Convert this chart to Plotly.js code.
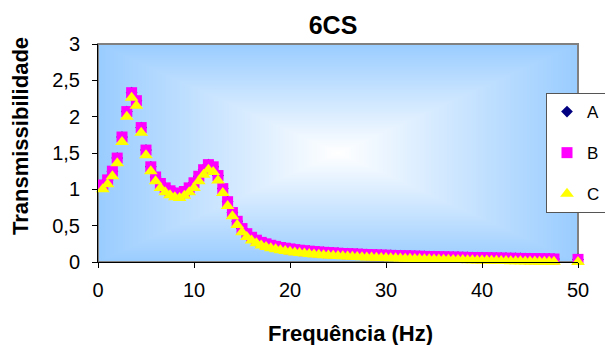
<!DOCTYPE html>
<html>
<head>
<meta charset="utf-8">
<script src="https://cdn.plot.ly/plotly-3.0.1.min.js"></script>
<style>
html,body{margin:0;padding:0;background:#ffffff;}
#chart{width:605px;height:345px;}
</style>
</head>
<body>
<div id="chart"></div>
<script>
// Frequency (Hz)
const freq = [0.5,1,1.5,2,2.5,3,3.5,4,4.5,5,5.5,6,6.5,7,7.5,8,8.5,9,9.5,10,
  10.5,11,11.5,12,12.5,13,13.5,14,14.5,15,15.5,16,16.5,17,17.5,18,18.5,19,19.5,20,
  20.5,21,21.5,22,22.5,23,23.5,24,24.5,25,25.5,26,26.5,27,27.5,28,28.5,29,29.5,30,
  30.5,31,31.5,32,32.5,33,33.5,34,34.5,35,35.5,36,36.5,37,37.5,38,38.5,39,39.5,40,
  40.5,41,41.5,42,42.5,43,43.5,44,44.5,45,45.5,46,46.5,47,47.5,50];

// Series A (hidden under B in the reference)
const seriesA = [1.06,1.13,1.25,1.43,1.72,2.07,2.33,2.22,1.85,1.54,1.31,1.17,1.08,1.02,0.98,0.95,0.94,0.97,1.02,1.09,
  1.18,1.27,1.34,1.31,1.19,1.01,0.83,0.68,0.56,0.46,0.39,0.34,0.30,0.27,0.25,0.23,0.215,0.2,0.19,0.18,
  0.17,0.162,0.155,0.149,0.143,0.138,0.133,0.129,0.125,0.121,0.117,0.114,0.111,0.108,0.105,0.102,0.1,0.097,0.095,0.093,
  0.091,0.089,0.087,0.085,0.083,0.081,0.079,0.077,0.076,0.074,0.072,0.071,0.069,0.068,0.066,0.065,0.063,0.062,0.06,0.059,
  0.058,0.056,0.055,0.054,0.052,0.051,0.05,0.049,0.047,0.046,0.045,0.044,0.043,0.042,0.041,0.036];

// Series B
const seriesB = [1.06,1.13,1.25,1.43,1.72,2.07,2.33,2.22,1.85,1.54,1.31,1.17,1.08,1.02,0.98,0.95,0.94,0.97,1.02,1.09,
  1.18,1.27,1.34,1.31,1.19,1.01,0.83,0.68,0.56,0.46,0.39,0.34,0.30,0.27,0.25,0.23,0.215,0.2,0.19,0.18,
  0.17,0.162,0.155,0.149,0.143,0.138,0.133,0.129,0.125,0.121,0.117,0.114,0.111,0.108,0.105,0.102,0.1,0.097,0.095,0.093,
  0.091,0.089,0.087,0.085,0.083,0.081,0.079,0.077,0.076,0.074,0.072,0.071,0.069,0.068,0.066,0.065,0.063,0.062,0.06,0.059,
  0.058,0.056,0.055,0.054,0.052,0.051,0.05,0.049,0.047,0.046,0.045,0.044,0.043,0.042,0.041,0.036];

// Series C
const seriesC = [1.00,1.07,1.18,1.36,1.65,2.00,2.26,2.15,1.78,1.47,1.25,1.11,1.02,0.96,0.92,0.89,0.88,0.91,0.96,1.02,
  1.11,1.2,1.27,1.24,1.12,0.95,0.77,0.63,0.51,0.41,0.345,0.297,0.258,0.228,0.208,0.188,0.174,0.16,0.15,0.14,
  0.131,0.123,0.116,0.11,0.104,0.099,0.094,0.09,0.086,0.082,0.078,0.075,0.072,0.069,0.066,0.063,0.061,0.058,0.056,0.054,
  0.052,0.05,0.048,0.046,0.044,0.042,0.04,0.038,0.037,0.035,0.033,0.032,0.03,0.029,0.027,0.026,0.024,0.023,0.021,0.02,
  0.019,0.017,0.016,0.015,0.013,0.012,0.011,0.01,0.008,0.007,0.006,0.005,0.004,0.003,0.002,0.001];

const seriesNames = ['A','B','C'];
const chartTitle = '6CS';
const xTitle = 'Frequência (Hz)';
const yTitle = 'Transmissibilidade';

const FONT = 'Arial, "Liberation Sans", sans-serif';

// Rectangular "from centre" gradient for the plot area background
function makeGradient(w, h) {
  const c = document.createElement('canvas');
  c.width = w; c.height = h;
  const ctx = c.getContext('2d');
  const img = ctx.createImageData(w, h);
  const cx = w / 2, cy = h / 2;
  const edge = [153, 204, 255];
  for (let y = 0; y < h; y++) {
    for (let x = 0; x < w; x++) {
      const t = Math.min(1, Math.max(Math.abs(x + 0.5 - cx) / cx, Math.abs(y + 0.5 - cy) / cy));
      const i = (y * w + x) * 4;
      img.data[i]     = Math.round(255 + (edge[0] - 255) * t);
      img.data[i + 1] = Math.round(255 + (edge[1] - 255) * t);
      img.data[i + 2] = Math.round(255 + (edge[2] - 255) * t);
      img.data[i + 3] = 255;
    }
  }
  ctx.putImageData(img, 0, 0);
  return c.toDataURL('image/png');
}

const traces = [
  {x: freq, y: seriesA, name: seriesNames[0], type: 'scatter', mode: 'markers', cliponaxis: false,
   legendgroup: 'a', marker: {symbol: 'diamond', size: 9, color: '#000080', line: {width: 0}}},
  {x: freq, y: seriesB, name: seriesNames[1], type: 'scatter', mode: 'markers', cliponaxis: false,
   legendgroup: 'b', marker: {symbol: 'square', size: 11, color: '#FF00FF', line: {width: 0}}},
  {x: freq, y: seriesC, name: seriesNames[2], type: 'scatter', mode: 'markers', cliponaxis: false,
   legendgroup: 'c', marker: {symbol: 'triangle-up', size: 12, color: '#FFFF00', line: {width: 0}}}
];

const layout = {
  width: 605, height: 345,
  margin: {l: 98, r: 27, t: 44, b: 83, autoexpand: false},
  paper_bgcolor: '#ffffff',
  plot_bgcolor: 'rgba(0,0,0,0)',
  separators: ',.',
  font: {family: FONT, color: '#000000', size: 20},
  showlegend: true,
  title: {text: '<b>' + chartTitle + '</b>', font: {family: FONT, size: 25, color: '#000'},
          xref: 'container', x: 333 / 605, xanchor: 'center',
          yref: 'container', y: 1 - 25 / 345, yanchor: 'middle'},
  xaxis: {range: [0, 50], dtick: 10, tick0: 0, ticks: 'outside', ticklen: 5, tickwidth: 1,
          tickcolor: '#000', showline: true, linecolor: '#000', linewidth: 1,
          showgrid: false, zeroline: false, tickfont: {family: FONT, size: 20, color: '#000'},
          ticklabelstandoff: 5, fixedrange: true},
  yaxis: {range: [0, 3], dtick: 0.5, tick0: 0, ticks: 'outside', ticklen: 5, tickwidth: 1,
          tickcolor: '#000', showline: true, linecolor: '#000', linewidth: 1,
          showgrid: false, zeroline: false, tickfont: {family: FONT, size: 20, color: '#000'},
          ticklabelstandoff: 8, fixedrange: true},
  legend: {x: (546 - 98) / 480, xanchor: 'left', y: (262 - 93) / 218, yanchor: 'top',
           bgcolor: '#ffffff', bordercolor: '#555555', borderwidth: 1,
           font: {family: FONT, size: 17, color: '#000'}, tracegroupgap: 16, valign: 'middle'},
  images: [{source: makeGradient(480, 218), xref: 'paper', yref: 'paper', x: 0, y: 1,
            sizex: 1, sizey: 1, sizing: 'stretch', xanchor: 'left', yanchor: 'top', layer: 'below'}],
  shapes: [{type: 'rect', xref: 'paper', yref: 'paper', x0: 0, x1: 1, y0: 0, y1: 1,
            line: {color: '#808080', width: 2}, layer: 'below'}],
  annotations: [
    {text: '<b>' + xTitle + '</b>', xref: 'paper', yref: 'paper', x: (350 - 98) / 480, y: (262 - 333) / 218,
     xanchor: 'center', yanchor: 'middle', showarrow: false, font: {family: FONT, size: 22, color: '#000'}},
    {text: '<b>' + yTitle + '</b>', xref: 'paper', yref: 'paper', x: (20 - 98) / 480, y: (262 - 136) / 218,
     xanchor: 'center', yanchor: 'middle', textangle: -90, showarrow: false,
     font: {family: FONT, size: 22, color: '#000'}}
  ]
};

Plotly.newPlot('chart', traces, layout, {displayModeBar: false, staticPlot: true});
</script>
</body>
</html>
